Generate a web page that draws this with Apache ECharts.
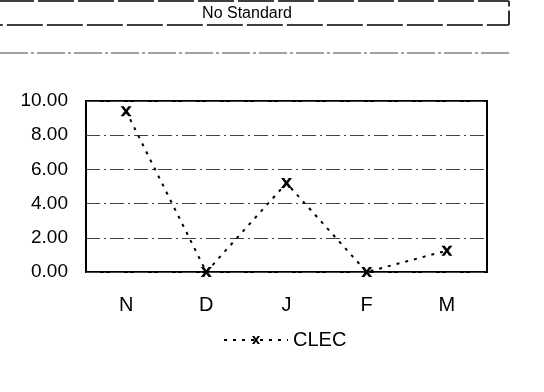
<!DOCTYPE html>
<html>
<head>
<meta charset="utf-8">
<script src="https://cdn.jsdelivr.net/npm/echarts@6/dist/echarts.min.js"></script>
<style>
  html, body { margin: 0; padding: 0; background: #fff; }
  #chart { width: 544px; height: 392px; }
</style>
</head>
<body>
<div id="chart"></div>
<script>
const categories = ['N', 'D', 'J', 'F', 'M'];
const clecValues = [9.4, 0, 5.2, 0, 1.25];
const seriesName = 'CLEC';
const headerText = 'No Standard';

// bold "x" marker
const crossPath = 'path://M0,0 L3,0 L5,2.5 L7,0 L10,0 L6.5,4 L10,8 L7,8 L5,5.5 L3,8 L0,8 L3.5,4 Z';
const font = 'Liberation Sans, Arial, sans-serif';

const chart = echarts.init(document.getElementById('chart'));
chart.setOption({
  backgroundColor: '#fff',
  animation: false,
  textStyle: { fontFamily: font },
  title: {
    text: headerText,
    left: 247,
    top: 6,
    padding: 0,
    textAlign: 'center',
    textStyle: { fontSize: 16, fontWeight: 'normal', color: '#000', fontFamily: font },
  },
  graphic: [
    {
      type: 'rect',
      z: -1,
      shape: { x: -3, y: 1, width: 512, height: 24, r: 1 },
      style: { fill: 'none', stroke: '#000', lineWidth: 1.6, lineDash: [36, 4] },
    },
    {
      type: 'line',
      z: -1,
      shape: { x1: 0, y1: 53, x2: 512, y2: 53 },
      style: { stroke: '#444', lineWidth: 1, lineDash: [28, 3, 3, 3] },
    },
  ],
  grid: { left: 86, right: 57, top: 101, bottom: 120, show: true, borderColor: '#000', borderWidth: 2 },
  legend: {
    data: [seriesName],
    left: 218,
    top: 325,
    itemWidth: 64,
    itemHeight: 10,
    itemGap: 8,
    textStyle: { fontSize: 20, color: '#000', fontFamily: font },
  },
  xAxis: {
    type: 'category',
    data: categories,
    boundaryGap: true,
    axisLine: { show: false },
    axisTick: { show: false },
    axisLabel: { color: '#000', fontSize: 20, margin: 23, fontFamily: font },
    splitLine: { show: false },
  },
  yAxis: {
    type: 'value',
    min: 0,
    max: 10,
    interval: 2,
    axisLine: { show: false },
    axisTick: { show: false },
    axisLabel: {
      color: '#000',
      fontSize: 19,
      margin: 18,
      fontFamily: font,
      formatter: v => v.toFixed(2),
    },
    splitLine: { lineStyle: { color: '#444', width: 1, type: [14, 4, 2, 4] } },
  },
  series: [
    {
      name: seriesName,
      type: 'line',
      data: clecValues,
      symbol: crossPath,
      symbolSize: [11, 10],
      itemStyle: { color: '#000' },
      lineStyle: { color: '#000', width: 2, type: [3, 6] },
    },
  ],
});
</script>
</body>
</html>
